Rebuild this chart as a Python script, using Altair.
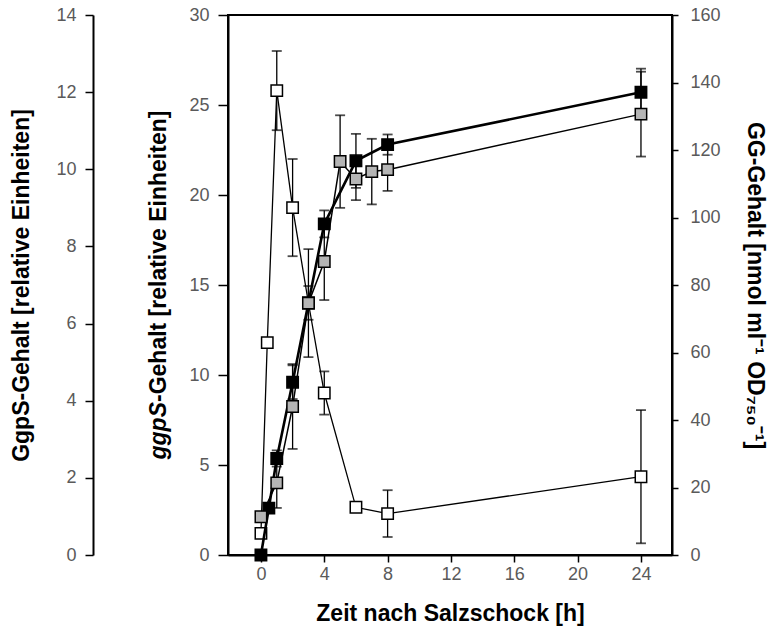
import altair as alt
import pandas as pd

# ---------------- data ----------------
# open squares: ggpS content, middle axis (0-30)
white_t = [0, 0.4, 1, 2, 3, 4, 6, 8, 24]
white_v = [1.2, 11.8, 25.8, 19.3, 14.0, 9.0, 2.65, 2.3, 4.35]
white_e = [0, 0, 2.2, 2.7, 0, 1.2, 0, 1.3, 3.7]

# grey squares: GgpS content, left-most axis (0-14)
gray_t = [0, 1, 2, 3, 4, 5, 6, 7, 8, 24]
gray_v = [0.99, 1.87, 3.85, 6.53, 7.61, 10.2, 9.75, 9.94, 9.99, 11.43]
gray_e = [0, 0.65, 1.1, 1.4, 1.0, 1.2, 0.55, 0.85, 0.55, 1.1]

# black squares: GG content, right axis (0-160)
black_t = [0, 0.5, 1, 2, 3, 4, 6, 8, 24]
black_v = [0, 13.9, 28.6, 51.2, 74.7, 98.1, 116.8, 121.6, 137.1]
black_e = [0, 0, 2.4, 5, 5, 4, 8, 3, 7]

x_ticks = [0, 4, 8, 12, 16, 20, 24]
mid_ticks = [0, 5, 10, 15, 20, 25, 30]
left_ticks = [0, 2, 4, 6, 8, 10, 12, 14]
right_ticks = [0, 20, 40, 60, 80, 100, 120, 140, 160]

x_title = "Zeit nach Salzschock [h]"
left_title = "GgpS-Gehalt [relative Einheiten]"
mid_title_a = "ggpS"
mid_title_b = "-Gehalt [relative Einheiten]"
right_title = "GG-Gehalt [nmol ml\u207b\u00b9 OD\u2087\u2085\u2080\u207b\u00b9]"

FONT = "Liberation Sans"
W, H = 444, 540


def frame(t, v, e):
    df = pd.DataFrame({"t": t, "v": v, "e": e})
    df["lo"] = df["v"] - df["e"]
    df["hi"] = df["v"] + df["e"]
    return df


x_enc = alt.X(
    "t:Q",
    scale=alt.Scale(domain=[-2.08, 25.96], nice=False, zero=False),
    axis=alt.Axis(
        values=x_ticks, title=x_title, grid=False, tickSize=7, labelPadding=3,
        titlePadding=19,
    ),
)


def series(df, domain, axis, line_w, fill, size=130):
    sc = alt.Scale(domain=domain, nice=False, zero=False)
    base = alt.Chart(df)
    err = df[df["e"] > 0]
    eb = alt.Chart(err)
    rule = eb.mark_rule(color="black", strokeWidth=1.3).encode(
        x=x_enc, y=alt.Y("lo:Q", scale=sc, axis=axis), y2="hi:Q"
    )
    cap_lo = eb.mark_tick(color="black", thickness=1.8, size=10, orient="horizontal").encode(
        x=x_enc, y=alt.Y("lo:Q", scale=sc, axis=axis)
    )
    cap_hi = eb.mark_tick(color="black", thickness=1.8, size=10, orient="horizontal").encode(
        x=x_enc, y=alt.Y("hi:Q", scale=sc, axis=axis)
    )
    line = base.mark_line(color="black", strokeWidth=line_w).encode(
        x=x_enc, y=alt.Y("v:Q", scale=sc, axis=axis)
    )
    pts = base.mark_point(
        shape="square", filled=True, fill=fill, stroke="black", strokeWidth=1.5,
        size=size, opacity=1,
    ).encode(x=x_enc, y=alt.Y("v:Q", scale=sc, axis=axis))
    return alt.layer(rule, cap_lo, cap_hi, line, pts)


mid_axis = alt.Axis(
    orient="left", values=mid_ticks, title=None, grid=False, tickSize=10,
    labelPadding=9,
)
left_axis = alt.Axis(
    orient="left", values=left_ticks, title=left_title, grid=False, tickSize=8,
    labelPadding=9, offset=135, titlePadding=22,
)
right_axis = alt.Axis(
    orient="right", values=right_ticks, title=right_title, grid=False, tickSize=6,
    labelPadding=12, titlePadding=22, titleAngle=90,
)

white_layer = series(frame(white_t, white_v, white_e), [0, 30], mid_axis, 1.3, "white")
black_layer = series(frame(black_t, black_v, black_e), [0, 160], right_axis, 2.6, "black")
gray_layer = series(frame(gray_t, gray_v, gray_e), [0, 14], left_axis, 1.5, "#b5b5b5")

tdf = pd.DataFrame({"a": [mid_title_a], "b": [mid_title_b]})
title_a = alt.Chart(tdf).mark_text(
    angle=270, align="right", baseline="alphabetic", font=FONT, fontSize=23,
    fontWeight="bold", fontStyle="italic", color="black",
).encode(text="a:N", x=alt.value(-62), y=alt.value(387))
title_b = alt.Chart(tdf).mark_text(
    angle=270, align="left", baseline="alphabetic", font=FONT, fontSize=23,
    fontWeight="bold", color="black",
).encode(text="b:N", x=alt.value(-62), y=alt.value(387))

chart = (
    alt.layer(white_layer, black_layer, gray_layer, title_a, title_b)
    .resolve_scale(y="independent")
    .properties(
        width=W, height=H,
        autosize=alt.AutoSizeParams(type="none"),
        padding={"left": 228, "top": 15, "right": 98, "bottom": 73},
        background="white",
    )
    .configure_view(stroke="black", strokeWidth=2)
    .configure_axis(
        domainColor="black", domainWidth=2, tickColor="black", tickWidth=1.5,
        labelFont=FONT, labelFontSize=18, labelColor="#5a5a5a",
        titleFont=FONT, titleFontSize=23, titleFontWeight="bold", titleColor="black",
    )
)

chart.save("out.html", embed_options={"renderer": "svg", "actions": False})
